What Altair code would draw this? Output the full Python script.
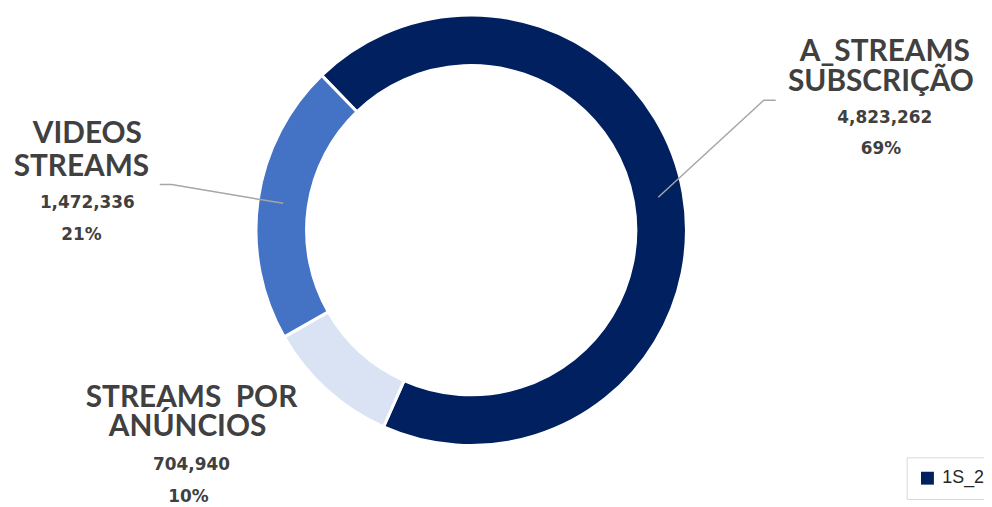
import math
import altair as alt
import pandas as pd

# ---- data ----
categories = ["A_STREAMS SUBSCRIÇÃO", "STREAMS  POR ANÚNCIOS", "VIDEOS STREAMS"]
label_lines = [["A_STREAMS", "SUBSCRIÇÃO"], ["STREAMS \u00a0POR", "ANÚNCIOS"], ["VIDEOS", "STREAMS"]]
values = [4823262, 704940, 1472336]
series_name = "1S_2"

# ---- style / layout ----
colors = ["#002060", "#DAE3F3", "#4472C4"]
W, H = 984, 499
CX, CY = 467, 222
R_OUT, R_IN = 217, 166
START = math.radians(-44)
TEXT_COLOR = "#404040"
LINE_COLOR = "#A6A6A6"
BIG, SMALL = 30, 17

# label anchor positions (chart px): x-centres and baselines for each of the 4 text lines
label_layout = [
    {"xs": [884, 880, 884, 880], "ys": [51, 82, 114, 145]},
    {"xs": [185, 181, 185, 182], "ys": [400, 429, 464, 496]},
    {"xs": [80, 74, 80, 74], "ys": [134, 167, 200, 232]},
]
# leader line elbow / end points (chart px), None for no leader
leader_layout = [
    [(762, 91), (774, 91)],
    None,
    [(165, 176), (153, 176)],
]

total = sum(values)
df = pd.DataFrame({"cat": categories, "value": values, "idx": list(range(len(values)))})

arcs = alt.Chart(df).mark_arc(
    outerRadius=R_OUT, innerRadius=R_IN, stroke="white", strokeWidth=3
).encode(
    theta=alt.Theta("value:Q", stack=True,
                    scale=alt.Scale(range=[START, START + 2 * math.pi])),
    fill=alt.Fill("cat:N", scale=alt.Scale(domain=categories, range=colors), legend=None),
    order=alt.Order("idx:Q"),
    x=alt.value(CX),
    y=alt.value(CY),
)

# leader lines from the middle of each slice
rows = []
cum = 0
r_mid = (R_OUT + R_IN) / 2
for i, v in enumerate(values):
    a = START + 2 * math.pi * (cum + v / 2) / total
    cum += v
    if leader_layout[i] is None:
        continue
    pts = [(CX + r_mid * math.sin(a), CY - r_mid * math.cos(a))] + leader_layout[i]
    for o, (px, py) in enumerate(pts):
        rows.append({"seg": categories[i], "o": o, "x": px, "y": py})
lines_df = pd.DataFrame(rows)

lines = alt.Chart(lines_df).mark_line(color=LINE_COLOR, strokeWidth=1.5).encode(
    x=alt.X("x:Q", scale=None),
    y=alt.Y("y:Q", scale=None),
    detail="seg:N",
    order="o:Q",
)

# text labels: names (big) and values/percentages (small)
name_rows, num_rows = [], []
for i, v in enumerate(values):
    lay = label_layout[i]
    for k, t in enumerate(label_lines[i]):
        name_rows.append({"t": t, "x": lay["xs"][k], "y": lay["ys"][k]})
    for k, t in enumerate([f"{v:,}", f"{round(v / total * 100)}%"]):
        num_rows.append({"t": t, "x": lay["xs"][k + 2], "y": lay["ys"][k + 2]})

names = alt.Chart(pd.DataFrame(name_rows)).mark_text(
    font="Lato", fontWeight="bold", fontSize=BIG, color=TEXT_COLOR,
    align="center", baseline="alphabetic"
).encode(
    x=alt.X("x:Q", scale=None),
    y=alt.Y("y:Q", scale=None),
    text="t:N",
)

nums = alt.Chart(pd.DataFrame(num_rows)).mark_text(
    font="DejaVu Sans", fontWeight="bold", fontSize=SMALL, color=TEXT_COLOR,
    align="center", baseline="alphabetic"
).encode(
    x=alt.X("x:Q", scale=None),
    y=alt.Y("y:Q", scale=None),
    text="t:N",
)

legend_layer = alt.Chart(pd.DataFrame({"s": [series_name]})).mark_square(opacity=0).encode(
    x=alt.value(0),
    y=alt.value(0),
    color=alt.Color(
        "s:N",
        scale=alt.Scale(range=["#002060"]),
        legend=alt.Legend(
            title=None, orient="none", legendX=906, legendY=451, padding=12,
            strokeColor="#D9D9D9", fillColor="white", symbolType="square",
            symbolSize=169, symbolStrokeWidth=0, symbolOpacity=1,
            labelFont="Liberation Sans", labelFontSize=18, labelColor="#262626",
            labelOffset=6,
        ),
    ),
)

chart = alt.layer(arcs, lines, names, nums, legend_layer).properties(
    width=W, height=H, autosize=alt.AutoSizeParams(type="none"), padding=0
).configure_view(stroke=None)

chart.save("out.html", embed_options={"renderer": "svg", "actions": False})
